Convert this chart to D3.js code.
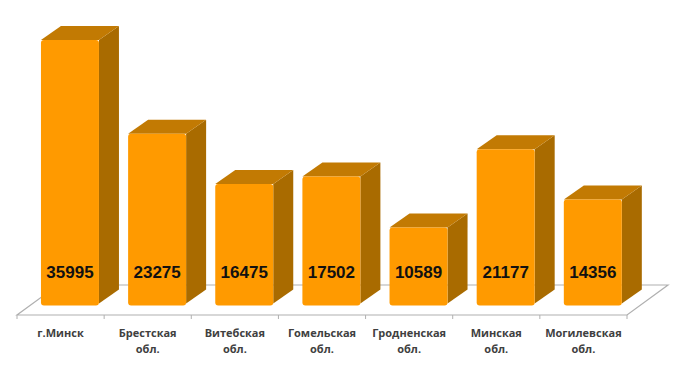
<!DOCTYPE html>
<meta charset="utf-8">
<script src="https://d3js.org/d3.v7.min.js"></script>
<style>
  body { margin: 0; background: #fff; }
</style>
<div id="chart"></div>
<script>

// data
var regions = ["г.Минск", "Брестская обл.", "Витебская обл.", "Гомельская обл.",
               "Гродненская обл.", "Минская обл.", "Могилевская обл."];
var values = [35995, 23275, 16475, 17502, 10589, 21177, 14356];

var width = 680, height = 387;

// floor geometry (pseudo 3d)
var floorFront = 315,
    floorDx = 41, floorDy = -30,
    barDx = 20, barDy = -14,
    barInset = 1 / 3;   // how far back the bar front sits on the floor

var svg = d3.select("#chart")
  .append("svg")
    .attr("width", width)
    .attr("height", height);

var x = d3.scaleBand()
  .domain(regions)
  .range([17, 627])
  .paddingInner(0);

var baseY = floorFront + floorDy * barInset + 0.5;   // front bottom of bars
var y = d3.scaleLinear()
  .domain([0, 40000])
  .range([baseY, baseY - 295]);

// floor
var x0 = x.range()[0], x1 = x.range()[1];
svg.append("path")
  .attr("d", "M" + x0 + "," + floorFront +
             "L" + x1 + "," + floorFront +
             "L" + (x1 + floorDx) + "," + (floorFront + floorDy) +
             "L" + (x0 + floorDx) + "," + (floorFront + floorDy) + "Z")
  .attr("fill", "#fff")
  .attr("stroke", "#b0b0b0")
  .attr("stroke-width", 1.2);

// ticks on the front edge
svg.selectAll(".tick")
  .data(regions.concat(["end"]))
  .enter().append("line")
    .attr("x1", function(d, i) { return x0 + i * x.bandwidth(); })
    .attr("x2", function(d, i) { return x0 + i * x.bandwidth(); })
    .attr("y1", floorFront)
    .attr("y2", floorFront + 4)
    .attr("stroke", "#b0b0b0");

var gap = 10.3, barW = 58;
var bars = svg.selectAll(".bar")
  .data(values)
  .enter().append("g")
    .attr("class", "bar");

function fx(d, i) { return x(regions[i]) + floorDx * barInset + gap; }

// side face
bars.append("path")
  .attr("fill", "#a96b00")
  .attr("d", function(d, i) {
    var l = fx(d, i) + barW, t = y(d), b = y(0) - 2;
    return "M" + l + "," + t + "L" + (l + barDx) + "," + (t + barDy) +
           "L" + (l + barDx) + "," + (b + barDy) + "L" + l + "," + b + "Z";
  });

// top face
bars.append("path")
  .attr("fill", "#c27a03")
  .attr("d", function(d, i) {
    var l = fx(d, i), t = y(d);
    return "M" + l + "," + t + "L" + (l + barDx) + "," + (t + barDy) +
           "L" + (l + barW + barDx) + "," + (t + barDy) + "L" + (l + barW) + "," + t + "Z";
  });

// front face
bars.append("rect")
  .attr("x", function(d, i) { return fx(d, i); })
  .attr("y", function(d) { return y(d); })
  .attr("width", barW)
  .attr("height", function(d) { return y(0) - y(d); })
  .attr("rx", 3)
  .attr("fill", "#ff9a00");

// value labels
bars.append("text")
  .attr("x", function(d, i) { return fx(d, i) + barW / 2; })
  .attr("y", 278)
  .attr("text-anchor", "middle")
  .style("font-family", "'Liberation Sans', Arial, sans-serif")
  .style("font-weight", "bold")
  .style("font-size", "17px")
  .attr("fill", "#111")
  .text(function(d) { return d; });

// category labels
var labels = svg.selectAll(".cat")
  .data(regions)
  .enter().append("text")
    .attr("class", "cat")
    .attr("x", function(d) { return x(d) + x.bandwidth() / 2; })
    .attr("y", 337)
    .attr("text-anchor", "middle")
    .style("font-family", "'Open Sans', sans-serif")
    .style("font-weight", "bold")
    .style("font-size", "11px")
    .attr("fill", "#404040");

labels.each(function(d) {
  var parts = d.split(" ");
  var t = d3.select(this);
  parts.forEach(function(p, k) {
    t.append("tspan")
      .attr("x", t.attr("x"))
      .attr("dy", k === 0 ? 0 : 16)
      .text(p);
  });
});

</script>
